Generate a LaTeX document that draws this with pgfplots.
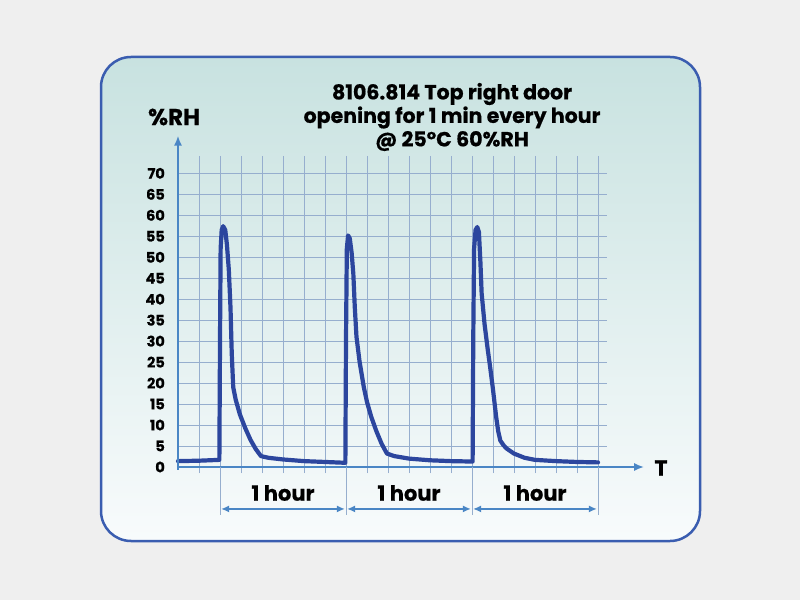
\documentclass[border=0pt]{standalone}
\usepackage{fontspec}
\setmainfont{Poppins}[BoldFeatures={FakeBold=0.6}]
\usepackage{pgfplots}
\pgfplotsset{compat=1.18}
\usetikzlibrary{arrows.meta}
\definecolor{bgout}{RGB}{239,239,239}
\definecolor{boxtop}{RGB}{200,226,224}
\definecolor{boxbot}{RGB}{248,251,252}
\definecolor{boxline}{RGB}{58,93,176}
\definecolor{gridc}{RGB}{150,174,206}
\definecolor{axisc}{RGB}{74,134,197}
\definecolor{linec}{RGB}{44,70,158}
\tikzset{hourarr/.style={axisc, line width=1.6pt, {Latex[length=8pt,width=7pt]}-{Latex[length=8pt,width=7pt]}},
  hourlbl/.style={font=\fontsize{21}{21}\selectfont\bfseries}}
\begin{document}
\begin{tikzpicture}[x=1pt,y=1pt]
\useasboundingbox (0,0) rectangle (800,600);
\fill[bgout] (0,0) rectangle (800,600);
\shadedraw[top color=boxtop, bottom color=boxbot, draw=boxline, line width=2.5pt, rounded corners=30pt] (101,59) rectangle (700,543);
\node[font=\fontsize{20.5}{23.5}\selectfont\bfseries, align=center] at (452,483) {8106.814 Top right door\\opening for 1 min every hour\\@ 25°C 60\%RH};
\node[font=\fontsize{23}{23}\selectfont\bfseries] at (174,483) {\%RH};
\node[font=\fontsize{22}{22}\selectfont\bfseries] at (661,132) {T};
\begin{axis}[
  at={(178pt,133pt)}, anchor=south west, scale only axis,
  width=429pt, height=305pt,
  xmin=0, xmax=20.43, ymin=0, ymax=72.7,
  xtick={1,...,20}, xticklabels={},
  ytick={0,5,...,70},
  grid=major, grid style={gridc, line width=0.8pt},
  axis line style={draw=none},
  tick align=outside, major tick length=6pt,
  xtick style={gridc, line width=0.8pt},
  ytick style={draw=none},
  yticklabel style={font=\fontsize{14.5}{14.5}\selectfont\bfseries, inner sep=0pt, xshift=-7pt},
  /pgf/number format/assume math mode=true,
  clip=false,
]
\addplot[linec, line width=4.2pt, line join=round, line cap=round] coordinates {
(0,1.4) (1,1.5) (1.97,1.7) (2.0,30) (2.03,52) (2.08,56.5) (2.15,57.4) (2.25,56.5)
(2.33,53) (2.42,47) (2.5,38) (2.56,27) (2.63,19) (2.75,16) (2.95,12.5) (3.2,9.3)
(3.45,6.5) (3.7,4.3) (3.95,2.6) (4.3,2.2) (5,1.8) (6,1.4) (7,1.2) (7.97,1.0)
(8.0,30) (8.04,52) (8.1,55.2) (8.18,54.5) (8.27,51) (8.35,46) (8.42,38) (8.5,31)
(8.65,25) (8.85,19) (9.0,15.5) (9.2,12) (9.45,8.5) (9.7,5.5) (9.95,3.2) (10.3,2.6)
(11,2.0) (12,1.6) (13,1.4) (14.03,1.3)
(14.06,30) (14.1,52) (14.17,56.5) (14.25,57.2) (14.33,56) (14.4,49) (14.46,41.4)
(14.6,34) (14.75,28) (14.86,24) (15.0,18.5) (15.15,12) (15.25,8.5) (15.35,6.3)
(15.5,5.2) (15.65,4.4) (16.0,3.2) (16.5,2.2) (17,1.7) (18,1.4) (19,1.2) (20,1.1)
};
% axis arrows
\draw[axisc, line width=2pt, -{Latex[length=10pt,width=8pt]}] (axis cs:-0.05,0) -- (axis cs:22.2,0);
\draw[axisc, line width=2pt, -{Latex[length=10pt,width=8pt]}] (axis cs:0,-0.7) -- (axis cs:0,79);
% hour spans
\draw[gridc, line width=0.8pt] (axis cs:2,0) -- (axis cs:2,-11.5);
\draw[gridc, line width=0.8pt] (axis cs:8,0) -- (axis cs:8,-11.5);
\draw[gridc, line width=0.8pt] (axis cs:14,0) -- (axis cs:14,-11.5);
\draw[gridc, line width=0.8pt] (axis cs:20,0) -- (axis cs:20,-11.5);
\draw[hourarr] (axis cs:2.05,-10) -- (axis cs:7.95,-10);
\draw[hourarr] (axis cs:8.05,-10) -- (axis cs:13.95,-10);
\draw[hourarr] (axis cs:14.05,-10) -- (axis cs:19.95,-10);
\node[hourlbl] at (axis cs:5,-6.2) {1 hour};
\node[hourlbl] at (axis cs:11,-6.2) {1 hour};
\node[hourlbl] at (axis cs:17,-6.2) {1 hour};
\end{axis}
\end{tikzpicture}
\end{document}
